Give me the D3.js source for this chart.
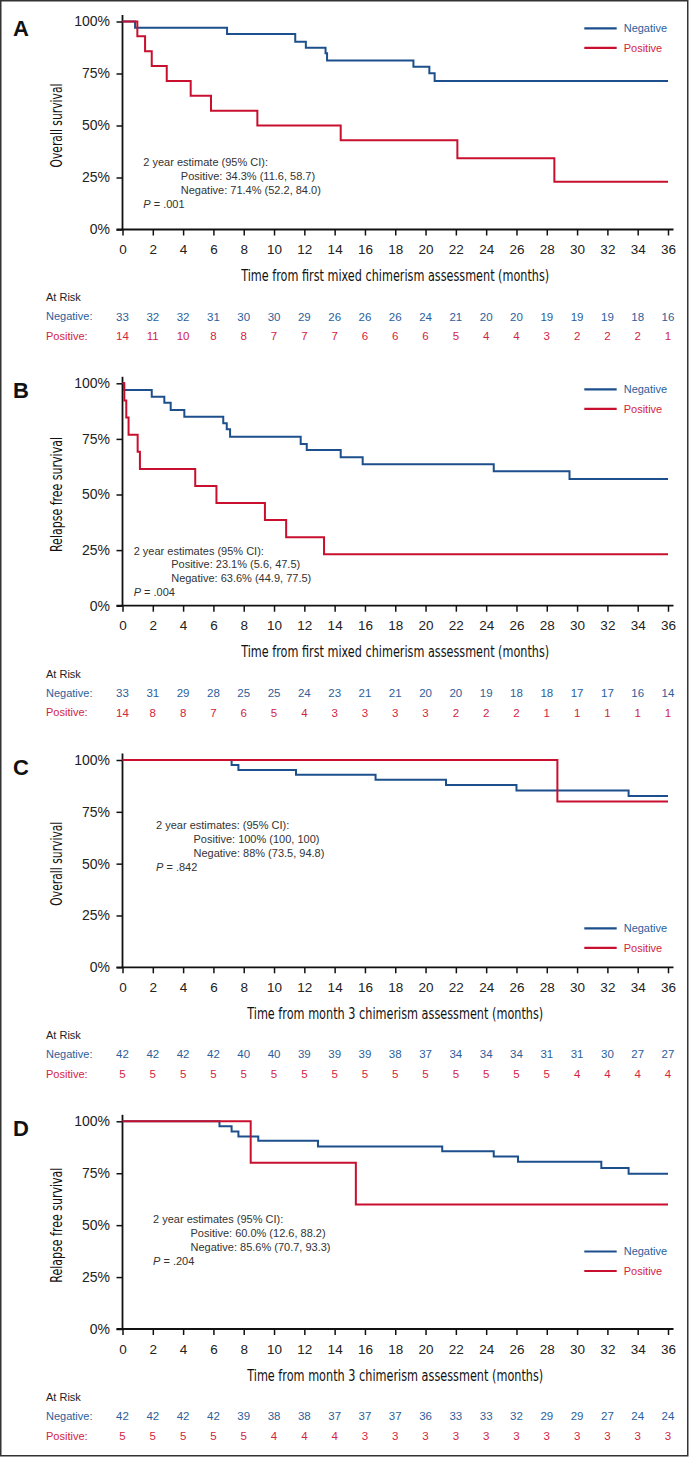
<!DOCTYPE html>
<html><head><meta charset="utf-8">
<script src="https://cdn.jsdelivr.net/npm/d3@7"></script>
<style>body{margin:0;background:#fff}svg{display:block}</style>
</head><body><svg id="chart" width="690" height="1457"></svg>
<script>
// ---------- DATA ----------
const monthTicks = d3.range(0, 37, 2);
const yTickValues = [0, 0.25, 0.5, 0.75, 1];
const seriesNames = ["Negative", "Positive"];

// Panel A: overall survival, first mixed chimerism
const aNegTime = [0, 0.83, 6.9, 11.4, 12.1, 13.4, 13.5, 19.2, 20.25, 20.6];
const aNegSurv = [1, 0.970, 0.940, 0.903, 0.874, 0.847, 0.813, 0.783, 0.751, 0.714];
const aPosTime = [0, 0.98, 1.49, 1.93, 2.92, 4.5, 5.84, 8.9, 14.4, 22.1, 28.5];
const aPosSurv = [1, 0.929, 0.857, 0.786, 0.714, 0.643, 0.571, 0.5, 0.429, 0.343, 0.229];
const aNegRisk = [33, 32, 32, 31, 30, 30, 29, 26, 26, 26, 24, 21, 20, 20, 19, 19, 19, 18, 16];
const aPosRisk = [14, 11, 10, 8, 8, 7, 7, 7, 6, 6, 6, 5, 4, 4, 3, 2, 2, 2, 1];

// Panel B: relapse free survival, first mixed chimerism
const bNegTime = [0, 0.1, 1.93, 2.76, 3.18, 4.08, 6.65, 6.88, 7.1, 11.76, 12.16, 14.4, 15.85, 24.5, 29.5];
const bNegSurv = [1, 0.970, 0.940, 0.913, 0.880, 0.850, 0.820, 0.793, 0.760, 0.727, 0.700, 0.667, 0.636, 0.604, 0.570];
const bPosTime = [0, 0.12, 0.25, 0.4, 1.0, 1.15, 4.8, 6.2, 9.4, 10.8, 13.3];
const bPosSurv = [1, 0.923, 0.846, 0.769, 0.692, 0.615, 0.538, 0.462, 0.385, 0.308, 0.231];
const bNegRisk = [33, 31, 29, 28, 25, 25, 24, 23, 21, 21, 20, 20, 19, 18, 18, 17, 17, 16, 14];
const bPosRisk = [14, 8, 8, 7, 6, 5, 4, 3, 3, 3, 3, 2, 2, 2, 1, 1, 1, 1, 1];

// Panel C: overall survival, month 3 chimerism
const cNegTime = [0, 7.2, 7.65, 11.45, 16.7, 21.35, 26.0, 33.4];
const cNegSurv = [1, 0.976, 0.952, 0.929, 0.905, 0.880, 0.853, 0.826];
const cPosTime = [0, 28.7];
const cPosSurv = [1, 0.8];
const cNegRisk = [42, 42, 42, 42, 40, 40, 39, 39, 39, 38, 37, 34, 34, 34, 31, 31, 30, 27, 27];
const cPosRisk = [5, 5, 5, 5, 5, 5, 5, 5, 5, 5, 5, 5, 5, 5, 5, 4, 4, 4, 4];

// Panel D: relapse free survival, month 3 chimerism
const dNegTime = [0, 6.4, 7.2, 7.65, 8.96, 12.9, 21.1, 24.5, 26.1, 31.6, 33.4];
const dNegSurv = [1, 0.976, 0.951, 0.927, 0.906, 0.879, 0.856, 0.831, 0.805, 0.775, 0.748];
const dPosTime = [0, 8.46, 15.4];
const dPosSurv = [1, 0.8, 0.6];
const dNegRisk = [42, 42, 42, 42, 39, 38, 38, 37, 37, 37, 36, 33, 33, 32, 29, 29, 27, 24, 24];
const dPosRisk = [5, 5, 5, 5, 5, 4, 4, 4, 3, 3, 3, 3, 3, 3, 3, 3, 3, 3, 3];

const panelLetters = ["A", "B", "C", "D"];
const yTitles = ["Overall survival", "Relapse free survival", "Overall survival", "Relapse free survival"];
const xTitles = ["Time from first mixed chimerism assessment (months)",
                 "Time from first mixed chimerism assessment (months)",
                 "Time from month 3 chimerism assessment (months)",
                 "Time from month 3 chimerism assessment (months)"];
const estimateHeads = ["2 year estimate (95% CI):", "2 year estimates (95% CI):",
                       "2 year estimates: (95% CI):", "2 year estimates (95% CI):"];
const estimatePos = ["Positive: 34.3% (11.6, 58.7)", "Positive: 23.1% (5.6, 47.5)",
                     "Positive: 100% (100, 100)", "Positive: 60.0% (12.6, 88.2)"];
const estimateNeg = ["Negative: 71.4% (52.2, 84.0)", "Negative: 63.6% (44.9, 77.5)",
                     "Negative: 88% (73.5, 94.8)", "Negative: 85.6% (70.7, 93.3)"];
const pValues = [".001", ".004", ".842", ".204"];

// ---------- LAYOUT ----------
const layout = [
  {y100: 21.5,   y0: 229.5,  ann: [143.3, 162.3], leg: 28.3,  xtw: 308, ytw: 84},
  {y100: 383.3,  y0: 605.7,  ann: [133.7, 550.7], leg: 389.3, xtw: 308, ytw: 115},
  {y100: 760,    y0: 967.3,  ann: [156,   825],   leg: 928.3, xtw: 296, ytw: 84},
  {y100: 1121.3, y0: 1329,   ann: [153,   1219],  leg: 1251.5,xtw: 296, ytw: 115}
];
const series = [
  [[aNegTime, aNegSurv, aNegRisk], [aPosTime, aPosSurv, aPosRisk]],
  [[bNegTime, bNegSurv, bNegRisk], [bPosTime, bPosSurv, bPosRisk]],
  [[cNegTime, cNegSurv, cNegRisk], [cPosTime, cPosSurv, cPosRisk]],
  [[dNegTime, dNegSurv, dNegRisk], [dPosTime, dPosSurv, dPosRisk]]
];
const lineColor = ["#1c4f8b", "#c8102e"];
const textColor = ["#2b5e9b", "#d3243f"];
const FONT = "'Liberation Sans', Arial, Helvetica, sans-serif";
const NARROW = "'Liberation Sans Narrow', 'DejaVu Sans Condensed', 'Liberation Sans', sans-serif";

const svg = d3.select("#chart");
svg.append("rect").attr("x", 0.75).attr("y", 0.75).attr("width", 687).attr("height", 1455)
  .attr("fill", "#fff").attr("stroke", "#333").attr("stroke-width", 1.5);

const x = d3.scaleLinear().domain([0, 36]).range([122.5, 668]);

layout.forEach((L, i) => {
  const y = d3.scaleLinear().domain([0, 1]).range([L.y0, L.y100]);
  const g = svg.append("g");

  // panel letter
  g.append("text").attr("x", 13).attr("y", L.y100 + 14.5).text(panelLetters[i])
    .attr("font-family", FONT).attr("font-weight", "bold").attr("font-size", 22).attr("fill", "#111");

  // y axis
  const ya = g.append("g").attr("transform", `translate(${x(0)},0)`)
    .call(d3.axisLeft(y).tickValues(yTickValues).tickFormat(d => Math.round(d * 100) + "%")
      .tickSize(6).tickPadding(6.5).tickSizeOuter(0));
  ya.select(".domain").remove();
  ya.selectAll(".tick line").attr("stroke", "#111").attr("stroke-width", 1.5);
  ya.selectAll("text").attr("font-family", FONT).attr("font-size", 14).attr("fill", "#222");

  // x axis
  const xa = g.append("g").attr("transform", `translate(0,${L.y0})`)
    .call(d3.axisBottom(x).tickValues(monthTicks).tickSize(6).tickSizeOuter(0));
  xa.select(".domain").remove();
  xa.selectAll(".tick line").attr("stroke", "#111").attr("stroke-width", 1.5);
  xa.selectAll("text").attr("y", 20).attr("dy", "0.35em")
    .attr("font-family", FONT).attr("font-size", 13.5).attr("fill", "#222");

  // axis lines
  g.append("line").attr("x1", x(0)).attr("x2", x(0)).attr("y1", y(1) - 6.5).attr("y2", y(0))
    .attr("stroke", "#111").attr("stroke-width", 1.8);
  g.append("line").attr("x1", x(0) - 6).attr("x2", x(36) + 5.5).attr("y1", y(0)).attr("y2", y(0))
    .attr("stroke", "#111").attr("stroke-width", 1.8);

  // titles
  g.append("text").attr("x", (x(0) + x(36)) / 2).attr("y", L.y0 + 46).attr("dy", "0.35em")
    .attr("text-anchor", "middle").attr("font-family", NARROW).attr("font-size", 16.5)
    .attr("textLength", L.xtw).attr("lengthAdjust", "spacingAndGlyphs").attr("fill", "#111")
    .text(xTitles[i]);
  g.append("text").attr("transform", `translate(61.5,${y(0.5)}) rotate(-90)`)
    .attr("text-anchor", "middle").attr("font-family", NARROW).attr("font-size", 16.5)
    .attr("textLength", L.ytw).attr("lengthAdjust", "spacingAndGlyphs").attr("fill", "#111")
    .text(yTitles[i]);

  // curves
  const line = d3.line().x(d => x(d[0])).y(d => y(d[1])).curve(d3.curveStepAfter);
  series[i].forEach((s, k) => {
    const pts = s[0].map((t, j) => [t, s[1][j]]);
    pts.push([36, s[1][s[1].length - 1]]);
    g.append("path").attr("d", line(pts)).attr("fill", "none")
      .attr("stroke", lineColor[k]).attr("stroke-width", 2);
  });

  // legend
  seriesNames.forEach((n, k) => {
    const ly = L.leg + k * 19.5;
    g.append("line").attr("x1", 584.3).attr("x2", 616.7).attr("y1", ly).attr("y2", ly)
      .attr("stroke", lineColor[k]).attr("stroke-width", 2.2);
    g.append("text").attr("x", 623.7).attr("y", ly).attr("dy", "0.35em").text(n)
      .attr("font-family", FONT).attr("font-size", 11).attr("fill", textColor[k]);
  });

  // annotation
  const [ax, ay] = L.ann;
  const annLines = [[ax, estimateHeads[i]], [ax + 37.5, estimatePos[i]], [ax + 37.5, estimateNeg[i]]];
  annLines.forEach((a, j) => {
    g.append("text").attr("x", a[0]).attr("y", ay + j * 13.9).attr("dy", "0.35em").text(a[1])
      .attr("font-family", FONT).attr("font-size", 11).attr("fill", "#333");
  });
  const pt = g.append("text").attr("x", ax).attr("y", ay + 3 * 13.9).attr("dy", "0.35em")
    .attr("font-family", FONT).attr("font-size", 11).attr("fill", "#333");
  pt.append("tspan").attr("font-style", "italic").text("P");
  pt.append("tspan").text(" = " + pValues[i]);

  // at risk table
  g.append("text").attr("x", 46).attr("y", L.y0 + 68).attr("dy", "0.35em").text("At Risk")
    .attr("font-family", FONT).attr("font-size", 11).attr("fill", "#222");
  series[i].forEach((s, k) => {
    const ry = L.y0 + 87 + k * 19.8;
    g.append("text").attr("x", 46).attr("y", ry).attr("dy", "0.35em").text(seriesNames[k] + ":")
      .attr("font-family", FONT).attr("font-size", 11).attr("fill", textColor[k]);
    g.selectAll(null).data(s[2]).enter().append("text")
      .attr("x", (d, j) => x(monthTicks[j])).attr("y", ry).attr("dy", "0.35em")
      .attr("text-anchor", "middle").text(d => d)
      .attr("font-family", FONT).attr("font-size", 11.5).attr("fill", textColor[k]);
  });
});
</script></body></html>
